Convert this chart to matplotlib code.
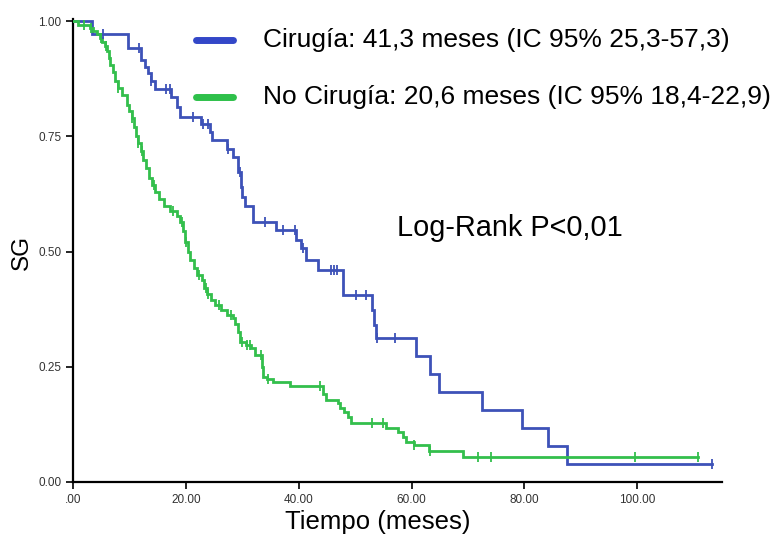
import matplotlib
matplotlib.use("Agg")
import matplotlib.pyplot as plt
import numpy as np

# ---- data ----
blue_times = [0, 3.4, 9.8, 12.0, 12.7, 13.3, 13.9, 14.5, 17.4, 18.4, 18.9, 22.6, 24.3, 24.6,
              27.2, 28.4, 29.3, 29.7, 29.9, 30.4, 31.9, 36.0, 39.6, 40.4, 41.2, 43.4, 47.8,
              52.9, 53.4, 53.7, 60.8, 63.3, 64.8, 72.5, 79.5, 84.1, 87.5]
blue_surv = [1.0, 0.972, 0.942, 0.915, 0.901, 0.887, 0.870, 0.853, 0.835, 0.815, 0.792, 0.778,
             0.760, 0.742, 0.723, 0.706, 0.673, 0.640, 0.619, 0.600, 0.565, 0.547, 0.525, 0.507,
             0.482, 0.460, 0.406, 0.373, 0.340, 0.312, 0.273, 0.235, 0.196, 0.157, 0.118, 0.079,
             0.040]
blue_end = 113.3
blue_cens = [5.4, 11.7, 13.9, 16.5, 17.2, 21.3, 23.1, 24.0, 27.4, 29.6, 34.0, 37.2, 39.4, 40.8,
             45.8, 46.3, 46.8, 50.2, 51.9, 53.9, 57.0, 113.3]

green_times = [0, 0.9, 3.0, 3.6, 4.2, 4.8, 5.2, 5.6, 6.0, 6.3, 6.6, 7.0, 7.4, 8.0, 8.6, 9.5,
               10.0, 10.4, 10.8, 11.2, 11.6, 12.0, 12.4, 12.9, 13.5, 14.0, 14.6, 15.3, 16.2,
               17.2, 18.4, 19.0, 19.5, 19.9, 20.3, 20.8, 21.4, 22.0, 22.8, 23.3, 23.7, 24.5,
               25.1, 26.3, 27.2, 28.4, 28.7, 29.2, 29.6, 30.7, 31.6, 32.2, 33.5, 33.7, 34.3,
               35.5, 38.4, 44.3, 44.9, 47.0, 47.3, 48.1, 48.7, 49.3, 55.5, 57.5, 58.5, 59.0,
               60.5, 63.1, 69.1]
green_surv = [1.0, 0.991, 0.986, 0.980, 0.972, 0.963, 0.955, 0.946, 0.935, 0.920, 0.905, 0.890,
              0.870, 0.855, 0.840, 0.818, 0.805, 0.790, 0.770, 0.750, 0.735, 0.718, 0.700, 0.682,
              0.660, 0.645, 0.630, 0.615, 0.600, 0.588, 0.578, 0.565, 0.545, 0.522, 0.500, 0.482,
              0.465, 0.450, 0.438, 0.422, 0.409, 0.395, 0.384, 0.373, 0.362, 0.355, 0.344, 0.325,
              0.304, 0.297, 0.290, 0.275, 0.250, 0.228, 0.223, 0.217, 0.209, 0.192, 0.178, 0.171,
              0.160, 0.152, 0.142, 0.127, 0.117, 0.109, 0.098, 0.087, 0.080, 0.068, 0.055]
green_end = 110.7
green_cens = [2.0, 3.2, 5.0, 5.8, 8.0, 10.4, 11.6, 12.2, 14.3, 17.8, 19.4, 20.0, 22.4, 23.5,
              24.0, 25.8, 28.0, 30.0, 30.9, 31.3, 33.4, 34.6, 43.7, 53.0, 55.0, 60.5, 63.3,
              71.7, 74.0, 99.5, 110.7]

legend_labels = ["Cirugía: 41,3 meses (IC 95% 25,3-57,3)",
                 "No Cirugía: 20,6 meses (IC 95% 18,4-22,9)"]
xticks = [0, 20, 40, 60, 80, 100]
xticklabels = [".00", "20.00", "40.00", "60.00", "80.00", "100.00"]
yticks = [0, 0.25, 0.5, 0.75, 1.0]
yticklabels = ["0.00", "0.25", "0.50", "0.75", "1.00"]

BLUE = "#3d52b8"
GREEN = "#33bf4c"

plt.rcParams['font.family'] = ['Liberation Sans', 'DejaVu Sans']

fig = plt.figure(figsize=(7.77, 5.38), dpi=100)
ax = fig.add_axes([73/777, 1-482/538, (722-73)/777, (482-19)/538])


def km(ax, times, surv, end, cens, color):
    t = list(times) + [end]
    s = list(surv) + [surv[-1]]
    ax.step(t, s, where='post', color=color, lw=2.0, solid_joinstyle='miter', zorder=3)
    cy = [surv[np.searchsorted(times, c, side='right') - 1] for c in cens]
    ax.plot(cens, cy, ls='none', marker='|', ms=7, mew=1.3, color=color, zorder=4)

km(ax, blue_times, blue_surv, blue_end, blue_cens, BLUE)
km(ax, green_times, green_surv, green_end, green_cens, GREEN)

ax.set_xlim(0, 115)
ax.set_ylim(0, 1.005)
ax.spines['top'].set_visible(False)
ax.spines['right'].set_visible(False)
for sp in ('left', 'bottom'):
    ax.spines[sp].set_linewidth(1.6)
ax.set_xticks(xticks)
ax.set_xticklabels(xticklabels)
ax.set_yticks(yticks)
ax.set_yticklabels(yticklabels)
ax.tick_params(axis='both', labelsize=8.5, labelcolor='#333333', length=5, width=1.2,
               direction='out')

# axis titles
fig.text(378/777, 1-522/538, "Tiempo (meses)", fontsize=18.5, ha='center', va='center')
fig.text(22/777, 1-252/538, "SG", fontsize=17.5, ha='center', va='center', rotation=90)

# legend drawn manually
ax.plot([0.190, 0.246], [0.955, 0.955], transform=ax.transAxes, color="#3347c8", lw=5,
        solid_capstyle='round', clip_on=False)
ax.plot([0.190, 0.246], [0.832, 0.832], transform=ax.transAxes, color="#2ec04a", lw=5,
        solid_capstyle='round', clip_on=False)
ax.text(0.293, 0.955, legend_labels[0], transform=ax.transAxes, fontsize=19,
        va='center', ha='left')
ax.text(0.293, 0.832, legend_labels[1], transform=ax.transAxes, fontsize=19,
        va='center', ha='left', clip_on=False)
ax.text(0.499, 0.549, "Log-Rank P<0,01", transform=ax.transAxes, fontsize=20.8,
        va='center', ha='left')

fig.savefig("out.png", dpi=100)
